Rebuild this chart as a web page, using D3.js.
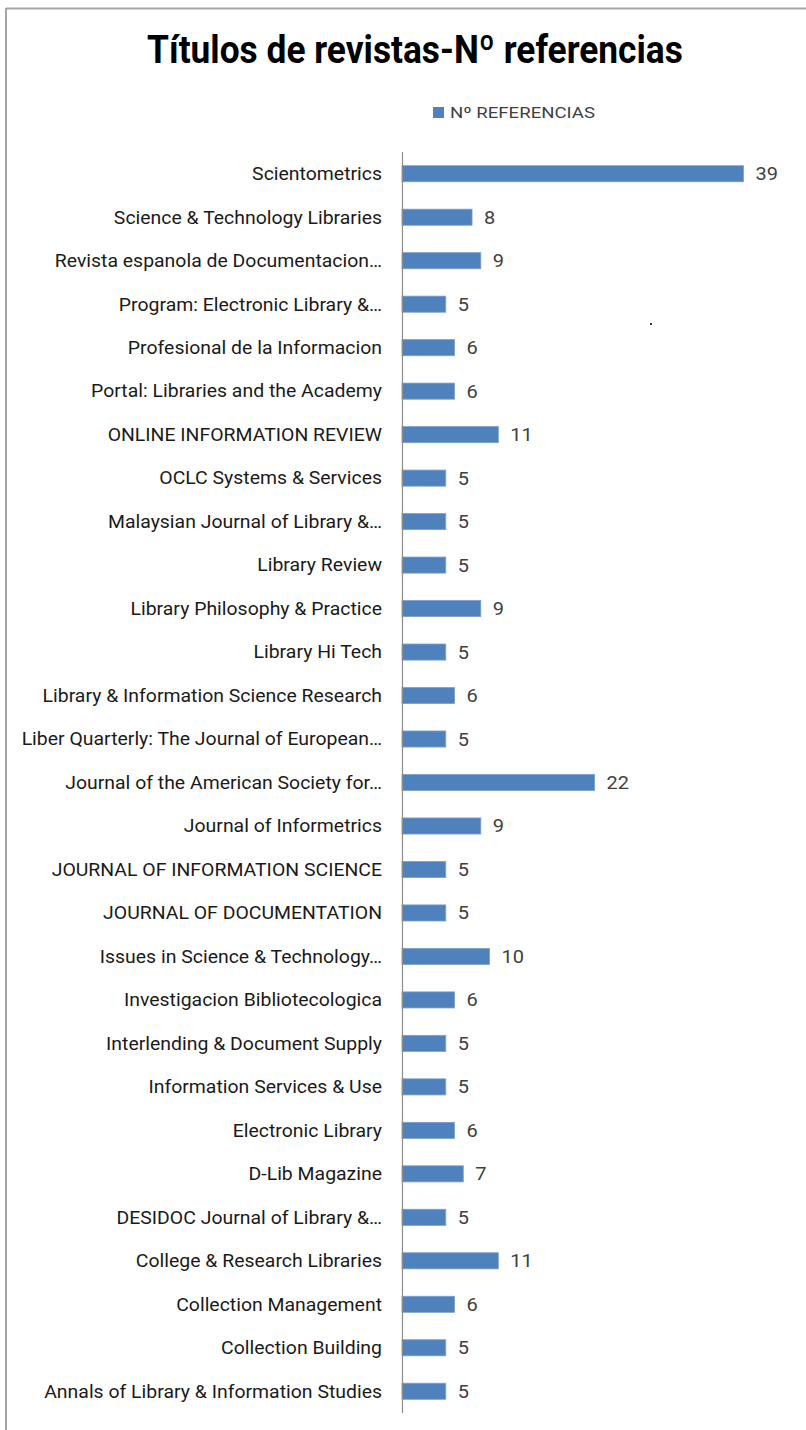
<!DOCTYPE html>
<html>
<head>
<meta charset="utf-8">
<script src="https://cdn.jsdelivr.net/npm/d3@7"></script>
<style>
  html, body { margin: 0; padding: 0; background: #fff; }
  svg { display: block; }
</style>
</head>
<body>
<svg id="chart" width="806" height="1430"></svg>
<script>
const title = "Títulos de revistas-Nº referencias";
const seriesName = "Nº REFERENCIAS";
const categories = [
  "Scientometrics",
  "Science & Technology Libraries",
  "Revista espanola de Documentacion…",
  "Program: Electronic Library &…",
  "Profesional de la Informacion",
  "Portal: Libraries and the Academy",
  "ONLINE INFORMATION REVIEW",
  "OCLC Systems & Services",
  "Malaysian Journal of Library &…",
  "Library Review",
  "Library Philosophy & Practice",
  "Library Hi Tech",
  "Library & Information Science Research",
  "Liber Quarterly: The Journal of European…",
  "Journal of the American Society for…",
  "Journal of Informetrics",
  "JOURNAL OF INFORMATION SCIENCE",
  "JOURNAL OF DOCUMENTATION",
  "Issues in Science & Technology…",
  "Investigacion Bibliotecologica",
  "Interlending & Document Supply",
  "Information Services & Use",
  "Electronic Library",
  "D-Lib Magazine",
  "DESIDOC Journal of Library &…",
  "College & Research Libraries",
  "Collection Management",
  "Collection Building",
  "Annals of Library & Information Studies"
];
const values = [39, 8, 9, 5, 6, 6, 11, 5, 5, 5, 9, 5, 6, 5, 22, 9, 5, 5, 10, 6, 5, 5, 6, 7, 5, 11, 6, 5, 5];
const xDomain = [0, 45];

const svg = d3.select("#chart");
const FONT = "Roboto, Lato, sans-serif";
const BLUE = "#4F81BD";

// frame
svg.append("line").attr("x1", 6).attr("x2", 806).attr("y1", 8.5).attr("y2", 8.5)
  .attr("stroke", "#a6a6a6").attr("stroke-width", 2);
svg.append("line").attr("x1", 6).attr("x2", 6).attr("y1", 8).attr("y2", 1430)
  .attr("stroke", "#a6a6a6").attr("stroke-width", 2);

function fitWidth(sel, target) {
  const w = sel.node().getComputedTextLength();
  return target / w;
}

// title
const t = svg.append("text")
  .attr("font-family", FONT).attr("font-weight", 700).attr("font-size", 39)
  .attr("fill", "#000").attr("text-anchor", "middle")
  .text(title);
const kt = fitWidth(t, 536);
t.attr("transform", `translate(415,63) scale(${kt},1)`);

// legend
svg.append("rect").attr("x", 433).attr("y", 107).attr("width", 11).attr("height", 11).attr("fill", BLUE);
const lg = svg.append("text")
  .attr("font-family", FONT).attr("font-size", 15.5).attr("fill", "#404040")
  .text(seriesName);
const kl = fitWidth(lg, 145);
lg.attr("transform", `translate(450,118) scale(${kl},1)`);

// scales
const x = d3.scaleLinear().domain(xDomain).range([402, 796]);
const y = d3.scaleBand().domain(categories).range([152, 1413]).paddingInner(0.63).paddingOuter(0.315);

const data = categories.map((c, i) => ({ c, v: values[i] }));

// bars
svg.append("g").selectAll("rect").data(data).join("rect")
  .attr("x", x(0)).attr("y", d => y(d.c))
  .attr("width", d => x(d.v) - x(0)).attr("height", y.bandwidth())
  .attr("fill", BLUE).attr("stroke", "#7aa0cf").attr("stroke-width", 0.8);

// axis
const yAxis = d3.axisLeft(y).tickSize(0).tickPadding(20);
const ag = svg.append("g").attr("transform", `translate(${x(0)},0)`).call(yAxis);
ag.select(".domain").attr("stroke", "#8c8c8c").attr("stroke-width", 1.2)
  .attr("d", `M0.5,152V1413`);
ag.selectAll(".tick text")
  .attr("font-family", FONT).attr("font-size", 17.5).attr("fill", "#1a1a1a")
  .attr("dy", "0.36em");
let ref = null;
ag.selectAll(".tick text").each(function(d) { if (d === "Annals of Library & Information Studies") ref = d3.select(this); });
const kc = fitWidth(ref, 338);
ag.selectAll(".tick text").attr("transform", `scale(${kc},1)`).attr("x", -20 / kc);

// value labels
const vl = svg.append("g").selectAll("text").data(data).join("text")
  .attr("font-family", FONT).attr("font-size", 18).attr("fill", "#404040")
  .attr("dy", "0.36em")
  .text(d => d.v);
vl.attr("transform", d => `translate(${x(d.v) + 12},${y(d.c) + y.bandwidth() / 2}) scale(${kc},1)`);

// stray dot
svg.append("rect").attr("x", 650).attr("y", 323).attr("width", 2).attr("height", 2).attr("fill", "#333");
</script>
</body>
</html>
